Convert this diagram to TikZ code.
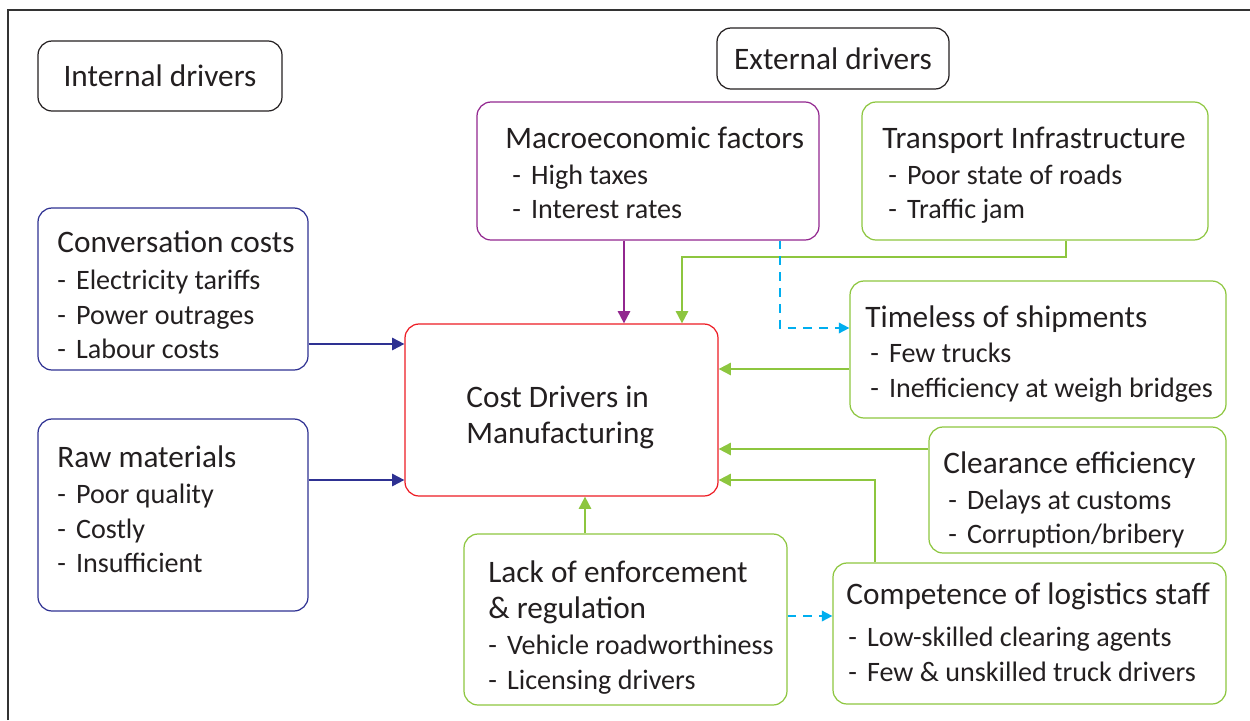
\documentclass[tikz,border=0pt]{standalone}
\usepackage{fontspec}
\setmainfont{Carlito}
\usetikzlibrary{arrows.meta,fit}
\definecolor{navyc}{HTML}{2E3192}
\definecolor{purplec}{HTML}{92278F}
\definecolor{greenc}{HTML}{8DC63F}
\definecolor{redc}{HTML}{ED1C24}
\definecolor{cyanc}{HTML}{00AEEF}
\definecolor{inkc}{HTML}{231F20}
\newcommand{\dashitem}[1]{-\hspace{0.36em}#1}
\begin{document}
\begin{tikzpicture}[x=0.02cm,y=-0.02cm,
  box/.style={draw, line width=0.7pt, rounded corners=8pt, inner sep=0pt},
  ttl/.style={anchor=base west, inner sep=0pt, text=inkc, font=\fontsize{17.8}{21}\selectfont},
  itm/.style={anchor=base west, inner sep=0pt, text=inkc, font=\fontsize{16}{19}\selectfont},
  arr/.style={line width=1.1pt, -{Triangle[length=7pt,width=7pt]}},
  dsh/.style={line width=1pt, cyanc, dashed, dash pattern=on 5pt off 4pt, -{Triangle[length=6pt,width=6pt]}},
  frame/.style={line width=1.1pt, draw=black!80}]
\useasboundingbox (0,0) rectangle (1250,720);
\draw[frame] (8,720) -- (8,10) -- (1250,10);

% header boxes
\node[box, draw=inkc, fit={(38,41) (282,111)}] (intl) {};
\node[ttl, anchor=center] at (intl.center) {Internal drivers};
\node[box, draw=inkc, fit={(717,28) (949,89)}] (extl) {};
\node[ttl, anchor=center] at (extl.center) {External drivers};

% central box
\node[box, draw=redc, fit={(405,324) (718,496)}] (cost) {};
\node[ttl] at (466,407) {Cost Drivers in};
\node[ttl] at (466,443) {Manufacturing};

% internal drivers
\node[box, draw=navyc, fit={(38,208) (308,370)}] (conv) {};
\node[ttl] at (57,252) {Conversation costs};
\node[itm] at (57,289) {\dashitem{Electricity tariffs}};
\node[itm] at (57,324) {\dashitem{Power outrages}};
\node[itm] at (57,358) {\dashitem{Labour costs}};

\node[box, draw=navyc, fit={(38,419) (308,611)}] (raw) {};
\node[ttl] at (57,467) {Raw materials};
\node[itm] at (57,503) {\dashitem{Poor quality}};
\node[itm] at (57,538) {\dashitem{Costly}};
\node[itm] at (57,572) {\dashitem{Insufficient}};

% external drivers
\node[box, draw=purplec, fit={(477,102) (819,240)}] (macro) {};
\node[ttl] at (505,148) {Macroeconomic factors};
\node[itm] at (512,184) {\dashitem{High taxes}};
\node[itm] at (512,218) {\dashitem{Interest rates}};

\node[box, draw=greenc, fit={(862,102) (1208,240)}] (trans) {};
\node[ttl] at (882,148) {Transport Infrastructure};
\node[itm] at (888,184) {\dashitem{Poor state of roads}};
\node[itm] at (888,218) {\dashitem{Traffic jam}};

\node[box, draw=greenc, fit={(850,281) (1226,418)}] (time) {};
\node[ttl] at (865,327) {Timeless of shipments};
\node[itm] at (870,362) {\dashitem{Few trucks}};
\node[itm] at (870,397) {\dashitem{Inefficiency at weigh bridges}};

\node[box, draw=greenc, fit={(929,427) (1226,553)}] (clear) {};
\node[ttl] at (943,473) {Clearance efficiency};
\node[itm] at (948,509) {\dashitem{Delays at customs}};
\node[itm] at (948,543) {\dashitem{Corruption/bribery}};

\node[box, draw=greenc, fit={(833,563) (1226,704)}] (comp) {};
\node[ttl] at (846,604) {Competence of logistics staff};
\node[itm] at (848,646) {\dashitem{Low-skilled clearing agents}};
\node[itm] at (848,681) {\dashitem{Few \& unskilled truck drivers}};

\node[box, draw=greenc, fit={(464,534) (787,705)}] (lack) {};
\node[ttl] at (488,582) {Lack of enforcement};
\node[ttl] at (488,618) {\& regulation};
\node[itm] at (488,654) {\dashitem{Vehicle roadworthiness}};
\node[itm] at (488,689) {\dashitem{Licensing drivers}};

% routing points
\coordinate (yconv) at (0,344);
\coordinate (yraw) at (0,480);
\coordinate (xmacro) at (624,0);
\coordinate (xtr) at (1066,0);
\coordinate (bendtr) at (682,257);
\coordinate (xdash) at (780,0);
\coordinate (ydash) at (0,328);
\coordinate (ytime) at (0,369);
\coordinate (yclear) at (0,449);
\coordinate (xcomp) at (875,0);
\coordinate (ycomp) at (0,480);
\coordinate (xlack) at (585,0);
\coordinate (ylack) at (0,616);

% connectors
\draw[arr, navyc] (conv.east |- yconv) -- (cost.west |- yconv);
\draw[arr, navyc] (raw.east |- yraw) -- (cost.west |- yraw);
\draw[arr, purplec] (macro.south -| xmacro) -- (cost.north -| xmacro);
\draw[arr, greenc] (trans.south -| xtr) |- (bendtr) -- (cost.north -| bendtr);
\draw[dsh] (macro.south -| xdash) |- (time.west |- ydash);
\draw[arr, greenc] (time.west |- ytime) -- (cost.east |- ytime);
\draw[arr, greenc] (clear.west |- yclear) -- (cost.east |- yclear);
\draw[arr, greenc] (comp.north -| xcomp) |- (cost.east |- ycomp);
\draw[arr, greenc] (lack.north -| xlack) -- (cost.south -| xlack);
\draw[dsh] (lack.east |- ylack) -- (comp.west |- ylack);
\end{tikzpicture}
\end{document}
